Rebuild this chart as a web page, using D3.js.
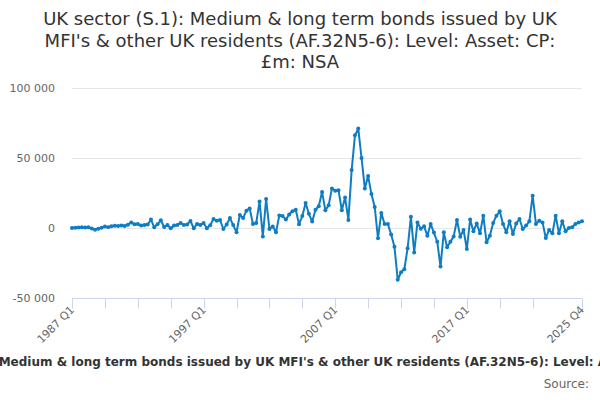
<!DOCTYPE html>
<html>
<head>
<meta charset="utf-8">
<script src="https://cdn.jsdelivr.net/npm/d3@7"></script>
<style>
  html, body { margin: 0; padding: 0; background: #fff; }
  svg { display: block; font-family: "DejaVu Sans", sans-serif; }
</style>
</head>
<body>
<svg id="chart" width="600" height="400"></svg>
<script>
const titleLines = [
  "UK sector (S.1): Medium & long term bonds issued by UK",
  "MFI's & other UK residents (AF.32N5-6): Level: Asset: CP:",
  "£m: NSA"
];
const axisTitle = "UK sector (S.1): Medium & long term bonds issued by UK MFI's & other UK residents (AF.32N5-6): Level: Asset: CP: £m: NSA";
const sourceText = "Source:";
const startYear = 1987;
const yTicks = [-50000, 0, 50000, 100000];
const xLabelIndices = [0, 40, 80, 120, 155];

const values = [
  0, 200, 300, 500, 300, 500, -300, -1200, -600, 200,
  1000, 500, 1200, 1600, 1400, 1800, 1500, 2400, 4000, 2600,
  2800, 1700, 2200, 2500, 6000, 500, 2600, 5500, 700, 2100,
  -200, 1700, 2100, 3600, 2100, 2500, 5000, -200, 2900, 2100,
  3600, -200, 2000, 6400, 5200, 5700, -700, 2500, 7100, 2100,
  -3100, 9300, 7100, 12400, 14000, 2900, 3600, 19000, -6000, 20700,
  -700, 1000, -3100, 8900, 8500, 6000, 9700, 12000, 13000, 2700,
  8500, 17900, 10100, 4600, 13000, 15500, 25800, 12600, 16200, 28300,
  26600, 27000, 12600, 21700, 5800, 41500, 66200, 71000, 50000, 28300,
  37200, 24200, 15000, -7400, 10800, 2900, 2900, -4700, -13400, -37000,
  -31600, -29500, -14500, 8000, -17500, 4000, -600, 1200, -5500, 2900,
  -3300, -9800, -27500, -3100, -13800, -9800, -6000, 5700, -6200, -1400,
  -15000, 6000, -2400, 3300, -3800, 8800, -10200, -5500, 3600, 8800,
  11900, 2900, -3100, 4800, -4300, 3300, 6400, -700, 1700, 4800,
  23100, 2900, 5200, 4000, -7100, -1400, -3800, 8800, -3800, 4800,
  -2400, 0, 500, 2900, 4000, 4800
];
const labels = values.map((v, i) => (startYear + Math.floor(i / 4)) + " Q" + (i % 4 + 1));

const svg = d3.select("#chart");
const margin = { left: 72, right: 18, top: 88, bottom: 102 };
const W = 600, H = 400;

const x = d3.scaleLinear().domain([0, values.length - 1]).range([margin.left, W - margin.right]);
const y = d3.scaleLinear().domain([-50000, 100000]).range([H - margin.bottom, margin.top]);

// title
const title = svg.append("text")
  .attr("x", 300).attr("y", 25)
  .attr("text-anchor", "middle")
  .attr("font-size", 18).attr("fill", "#333");
titleLines.forEach((t, i) => {
  title.append("tspan").attr("x", 300).attr("dy", i === 0 ? 0 : 21.5).text(t);
});

// gridlines
const fmt = v => d3.format(",")(v).replace(/,/g, " ").replace("\u2212", "-");
svg.append("g").selectAll("line")
  .data(yTicks.filter(t => t !== -50000))
  .join("line")
  .attr("x1", margin.left).attr("x2", W - margin.right)
  .attr("y1", d => Math.round(y(d)) + 0.5).attr("y2", d => Math.round(y(d)) + 0.5)
  .attr("stroke", "#e6e6e6").attr("stroke-width", 1);

// y labels
svg.append("g").selectAll("text")
  .data(yTicks)
  .join("text")
  .attr("x", 55).attr("y", d => y(d) + 4)
  .attr("text-anchor", "end")
  .attr("font-size", 11).attr("fill", "#666")
  .text(d => fmt(d));

// x axis line + ticks
const xAxisY = Math.round(y(-50000)) + 0.5;
svg.append("line")
  .attr("x1", margin.left).attr("x2", W - margin.right)
  .attr("y1", xAxisY).attr("y2", xAxisY)
  .attr("stroke", "#ccd6eb");
const tickIdx = d3.range(0, 141, 10).concat([values.length - 1]);
svg.append("g").selectAll("line")
  .data(tickIdx)
  .join("line")
  .attr("x1", d => Math.round(x(d)) + 0.5).attr("x2", d => Math.round(x(d)) + 0.5)
  .attr("y1", xAxisY).attr("y2", xAxisY + 10)
  .attr("stroke", "#ccd6eb");

svg.append("g").selectAll("text")
  .data(xLabelIndices)
  .join("text")
  .attr("transform", d => `translate(${x(d) + 3},${xAxisY + 12}) rotate(-45)`)
  .attr("text-anchor", "end")
  .attr("font-size", 11).attr("fill", "#666")
  .text(d => labels[d]);

// line
const line = d3.line().x((d, i) => x(i)).y(d => y(d));
svg.append("path")
  .datum(values)
  .attr("d", line)
  .attr("fill", "none")
  .attr("stroke", "#0f7dc2")
  .attr("stroke-width", 2)
  .attr("stroke-linejoin", "round");
svg.append("g").selectAll("circle")
  .data(values)
  .join("circle")
  .attr("cx", (d, i) => x(i)).attr("cy", d => y(d))
  .attr("r", 2)
  .attr("fill", "#0f7dc2");

// axis title (overflowing, as in the reference)
svg.append("text")
  .attr("x", 308).attr("y", 366)
  .attr("text-anchor", "middle")
  .attr("font-size", 12).attr("font-weight", "bold").attr("fill", "#333")
  .text(axisTitle);

svg.append("text")
  .attr("x", 589).attr("y", 388)
  .attr("text-anchor", "end")
  .attr("font-size", 12).attr("fill", "#666")
  .text(sourceText);
</script>
</body>
</html>
